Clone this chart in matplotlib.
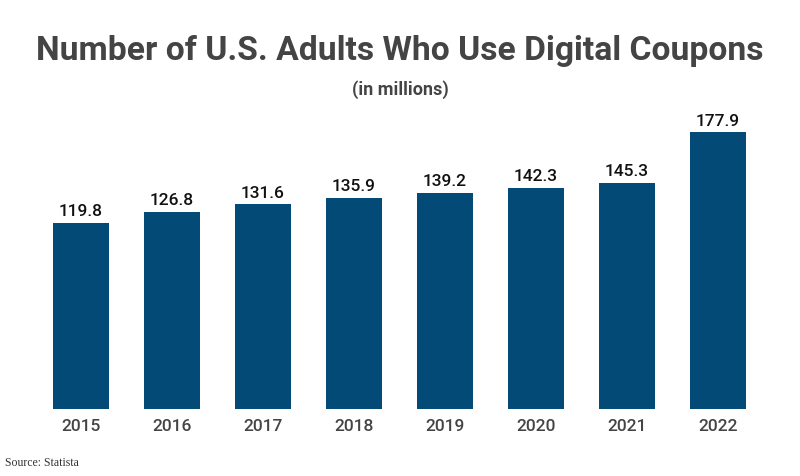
import matplotlib
matplotlib.use("Agg")
import matplotlib.pyplot as plt
import numpy as np

years = ["2015", "2016", "2017", "2018", "2019", "2020", "2021", "2022"]
adults = [119.8, 126.8, 131.6, 135.9, 139.2, 142.3, 145.3, 177.9]

barColor = "#034a76"
textColor = "#444444"

fig = plt.figure(figsize=(8, 4.76), dpi=100)
ax = fig.add_axes([35.5 / 800, 67 / 476, 728 / 800, 311 / 476])

x = np.arange(len(years))
bars = ax.bar(x, adults, width=0.615, color=barColor)
for xi, v in zip(x, adults):
    ax.text(xi, v + 2.3, f"{v:.1f}", ha="center", va="bottom",
            family="Roboto", fontsize=12.5, fontweight="medium", color="#111111")

ax.set_xlim(-0.5, len(years) - 0.5)
ax.set_ylim(0, 200)
ax.set_xticks(x)
ax.set_xticklabels(years, family="Roboto", fontsize=12.5, fontweight="medium", color=textColor)
ax.tick_params(axis="x", length=0, pad=7)
ax.set_yticks([])
for s in ax.spines.values():
    s.set_visible(False)

fig.text(0.5, 1 - 51 / 476, "Number of U.S. Adults Who Use Digital Coupons", ha="center", va="center",
         family="Roboto", fontsize=24.2, fontweight="bold", color=textColor)
fig.text(0.5, 1 - 90 / 476, "(in millions)", ha="center", va="center",
         family="Roboto", fontsize=13, fontweight="bold", color=textColor)
fig.text(5 / 800, 1 - 463 / 476, "Source: Statista", ha="left", va="center",
         family="Liberation Serif", fontsize=8.5, color="#333333")

fig.savefig("out.png", dpi=100)
